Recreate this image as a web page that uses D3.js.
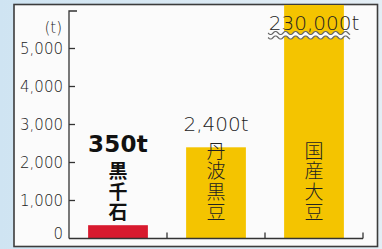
<!DOCTYPE html>
<html>
<head>
<meta charset="utf-8">
<script src="https://cdn.jsdelivr.net/npm/d3@7"></script>
<style>
  html, body { margin: 0; padding: 0; }
  body { width: 382px; height: 249px; overflow: hidden; }
  svg { display: block; }
  text { font-family: "DejaVu Sans", "Noto Sans CJK JP", sans-serif; }
</style>
</head>
<body>
<div id="chart"></div>
<script>
const categories = ["黒千石", "丹波黒豆", "国産大豆"];
const values = [350, 2400, 230000];
const valueLabels = ["350t", "2,400t", "230,000t"];
const barColors = ["#d81a2e", "#f4c400", "#f4c400"];
const yTicks = [0, 1000, 2000, 3000, 4000, 5000];
const yUnit = "(t)";

const width = 382;
const height = 249;
const axisX = 69;
const axisRight = 363;
const axisBottom = 238.5;
const axisTop = 11;
const panelTop = 4.5;

const svg = d3.select("#chart")
  .append("svg")
  .attr("width", width)
  .attr("height", height)
  .attr("viewBox", [0, 0, width, height]);

const grad = svg.append("defs").append("linearGradient")
  .attr("id", "bg")
  .attr("x1", 0).attr("x2", 1).attr("y1", 0).attr("y2", 0);
grad.append("stop").attr("offset", 0).attr("stop-color", "#cfe4f2");
grad.append("stop").attr("offset", 1).attr("stop-color", "#e4eef5");

svg.append("rect")
  .attr("width", width).attr("height", height)
  .attr("fill", "url(#bg)");

// white panel with dark frame
svg.append("rect")
  .attr("x", 14).attr("y", panelTop)
  .attr("width", 363.5).attr("height", 242)
  .attr("fill", "#fbfbfb")
  .attr("stroke", "#3c3c3c")
  .attr("stroke-width", 1.6);

const x = d3.scaleBand()
  .domain(categories)
  .range([axisX, axisRight])
  .paddingInner(0.39)
  .paddingOuter(0.195);

const y = d3.scaleLinear()
  .domain([0, 5000])
  .range([axisBottom, 48.5]);

const yMaxShown = y.invert(panelTop + 0.5);

// bars
svg.append("g")
  .selectAll("rect")
  .data(categories)
  .join("rect")
  .attr("x", d => x(d))
  .attr("width", x.bandwidth())
  .attr("y", (d, i) => y(Math.min(values[i], yMaxShown)))
  .attr("height", (d, i) => axisBottom - y(Math.min(values[i], yMaxShown)))
  .attr("fill", (d, i) => barColors[i]);

// y axis
const yAxisG = svg.append("g").attr("stroke", "#333").attr("stroke-width", 1.3).attr("fill", "none");
yAxisG.append("path")
  .attr("d", `M${axisX + 8},${axisTop} H${axisX} V${axisBottom}`);
yAxisG.selectAll("line")
  .data(yTicks.filter(d => d > 0))
  .join("line")
  .attr("x1", axisX).attr("x2", axisX + 6)
  .attr("y1", d => y(d)).attr("y2", d => y(d));

svg.append("g")
  .selectAll("text")
  .data(yTicks)
  .join("text")
  .attr("x", 63)
  .attr("y", d => y(d) - (d === 0 ? 5 : 0))
  .attr("dy", "0.36em")
  .attr("text-anchor", "end")
  .attr("font-size", 15)
  .attr("font-weight", 200)
  .attr("fill", "#222")
  .text(d => d3.format(",")(d));

svg.append("text")
  .attr("x", 62)
  .attr("y", 28)
  .attr("dy", "0.36em")
  .attr("text-anchor", "end")
  .attr("font-size", 15)
  .attr("font-weight", 200)
  .attr("fill", "#222")
  .text(yUnit);

// x axis with upward ticks at band boundaries
const bounds = categories.map((d, i) => axisX + (i + 1) * x.step());
const xAxisG = svg.append("g").attr("stroke", "#333").attr("stroke-width", 1.3).attr("fill", "none");
xAxisG.append("path").attr("d", `M${axisX},${axisBottom} H${axisRight}`);
xAxisG.selectAll("line")
  .data(bounds)
  .join("line")
  .attr("x1", d => d).attr("x2", d => d)
  .attr("y1", axisBottom).attr("y2", axisBottom - 6);

// category names, written vertically, bottom aligned
const charStep = 20.5;
const lastCharCenter = 212.5;
categories.forEach((c, i) => {
  const chars = Array.from(c);
  const cx = x(c) + x.bandwidth() / 2;
  svg.append("g")
    .selectAll("text")
    .data(chars)
    .join("text")
    .attr("x", cx)
    .attr("y", (d, j) => lastCharCenter - (chars.length - 1 - j) * charStep)
    .attr("dy", "0.36em")
    .attr("text-anchor", "middle")
    .attr("font-family", "'Noto Sans CJK JP', sans-serif")
    .attr("font-size", 19)
    .attr("font-weight", i === 0 ? 700 : 300)
    .attr("fill", i === 0 ? "#111" : "#222")
    .text(d => d);
});

// value labels
categories.forEach((c, i) => {
  const chars = Array.from(c);
  const cx = x(c) + x.bandwidth() / 2;
  const charTop = lastCharCenter - (chars.length - 1) * charStep - 10;
  const barTop = y(Math.min(values[i], yMaxShown));
  const base = Math.max(30, Math.min(barTop, charTop) - 10);
  svg.append("text")
    .attr("x", cx)
    .attr("y", base)
    .attr("text-anchor", "middle")
    .attr("font-size", i === 0 ? 23 : 20)
    .attr("font-weight", i === 0 ? 700 : 200)
    .attr("letter-spacing", i === 0 ? 0.3 : 0)
    .attr("fill", i === 0 ? "#111" : "#222")
    .text(valueLabels[i]);
});

// wavy break mark across the clipped bar
const last = categories[categories.length - 1];
const bx0 = x(last) - 16;
const bx1 = x(last) + x.bandwidth() + 6;
const wave = (y0) => d3.range(bx0, bx1 + 0.5, 1).map(px => [px, y0 + 1.6 * Math.sin((px - bx0) / 10 * 2 * Math.PI)]);
const upper = wave(33);
const lower = wave(37.5);
svg.append("path")
  .attr("d", d3.line()(upper.concat(lower.slice().reverse())) + "Z")
  .attr("fill", "#fbfbfb");
[upper, lower].forEach(pts => {
  svg.append("path")
    .attr("d", d3.line()(pts))
    .attr("fill", "none")
    .attr("stroke", "#666")
    .attr("stroke-width", 1.2);
});
</script>
</body>
</html>
